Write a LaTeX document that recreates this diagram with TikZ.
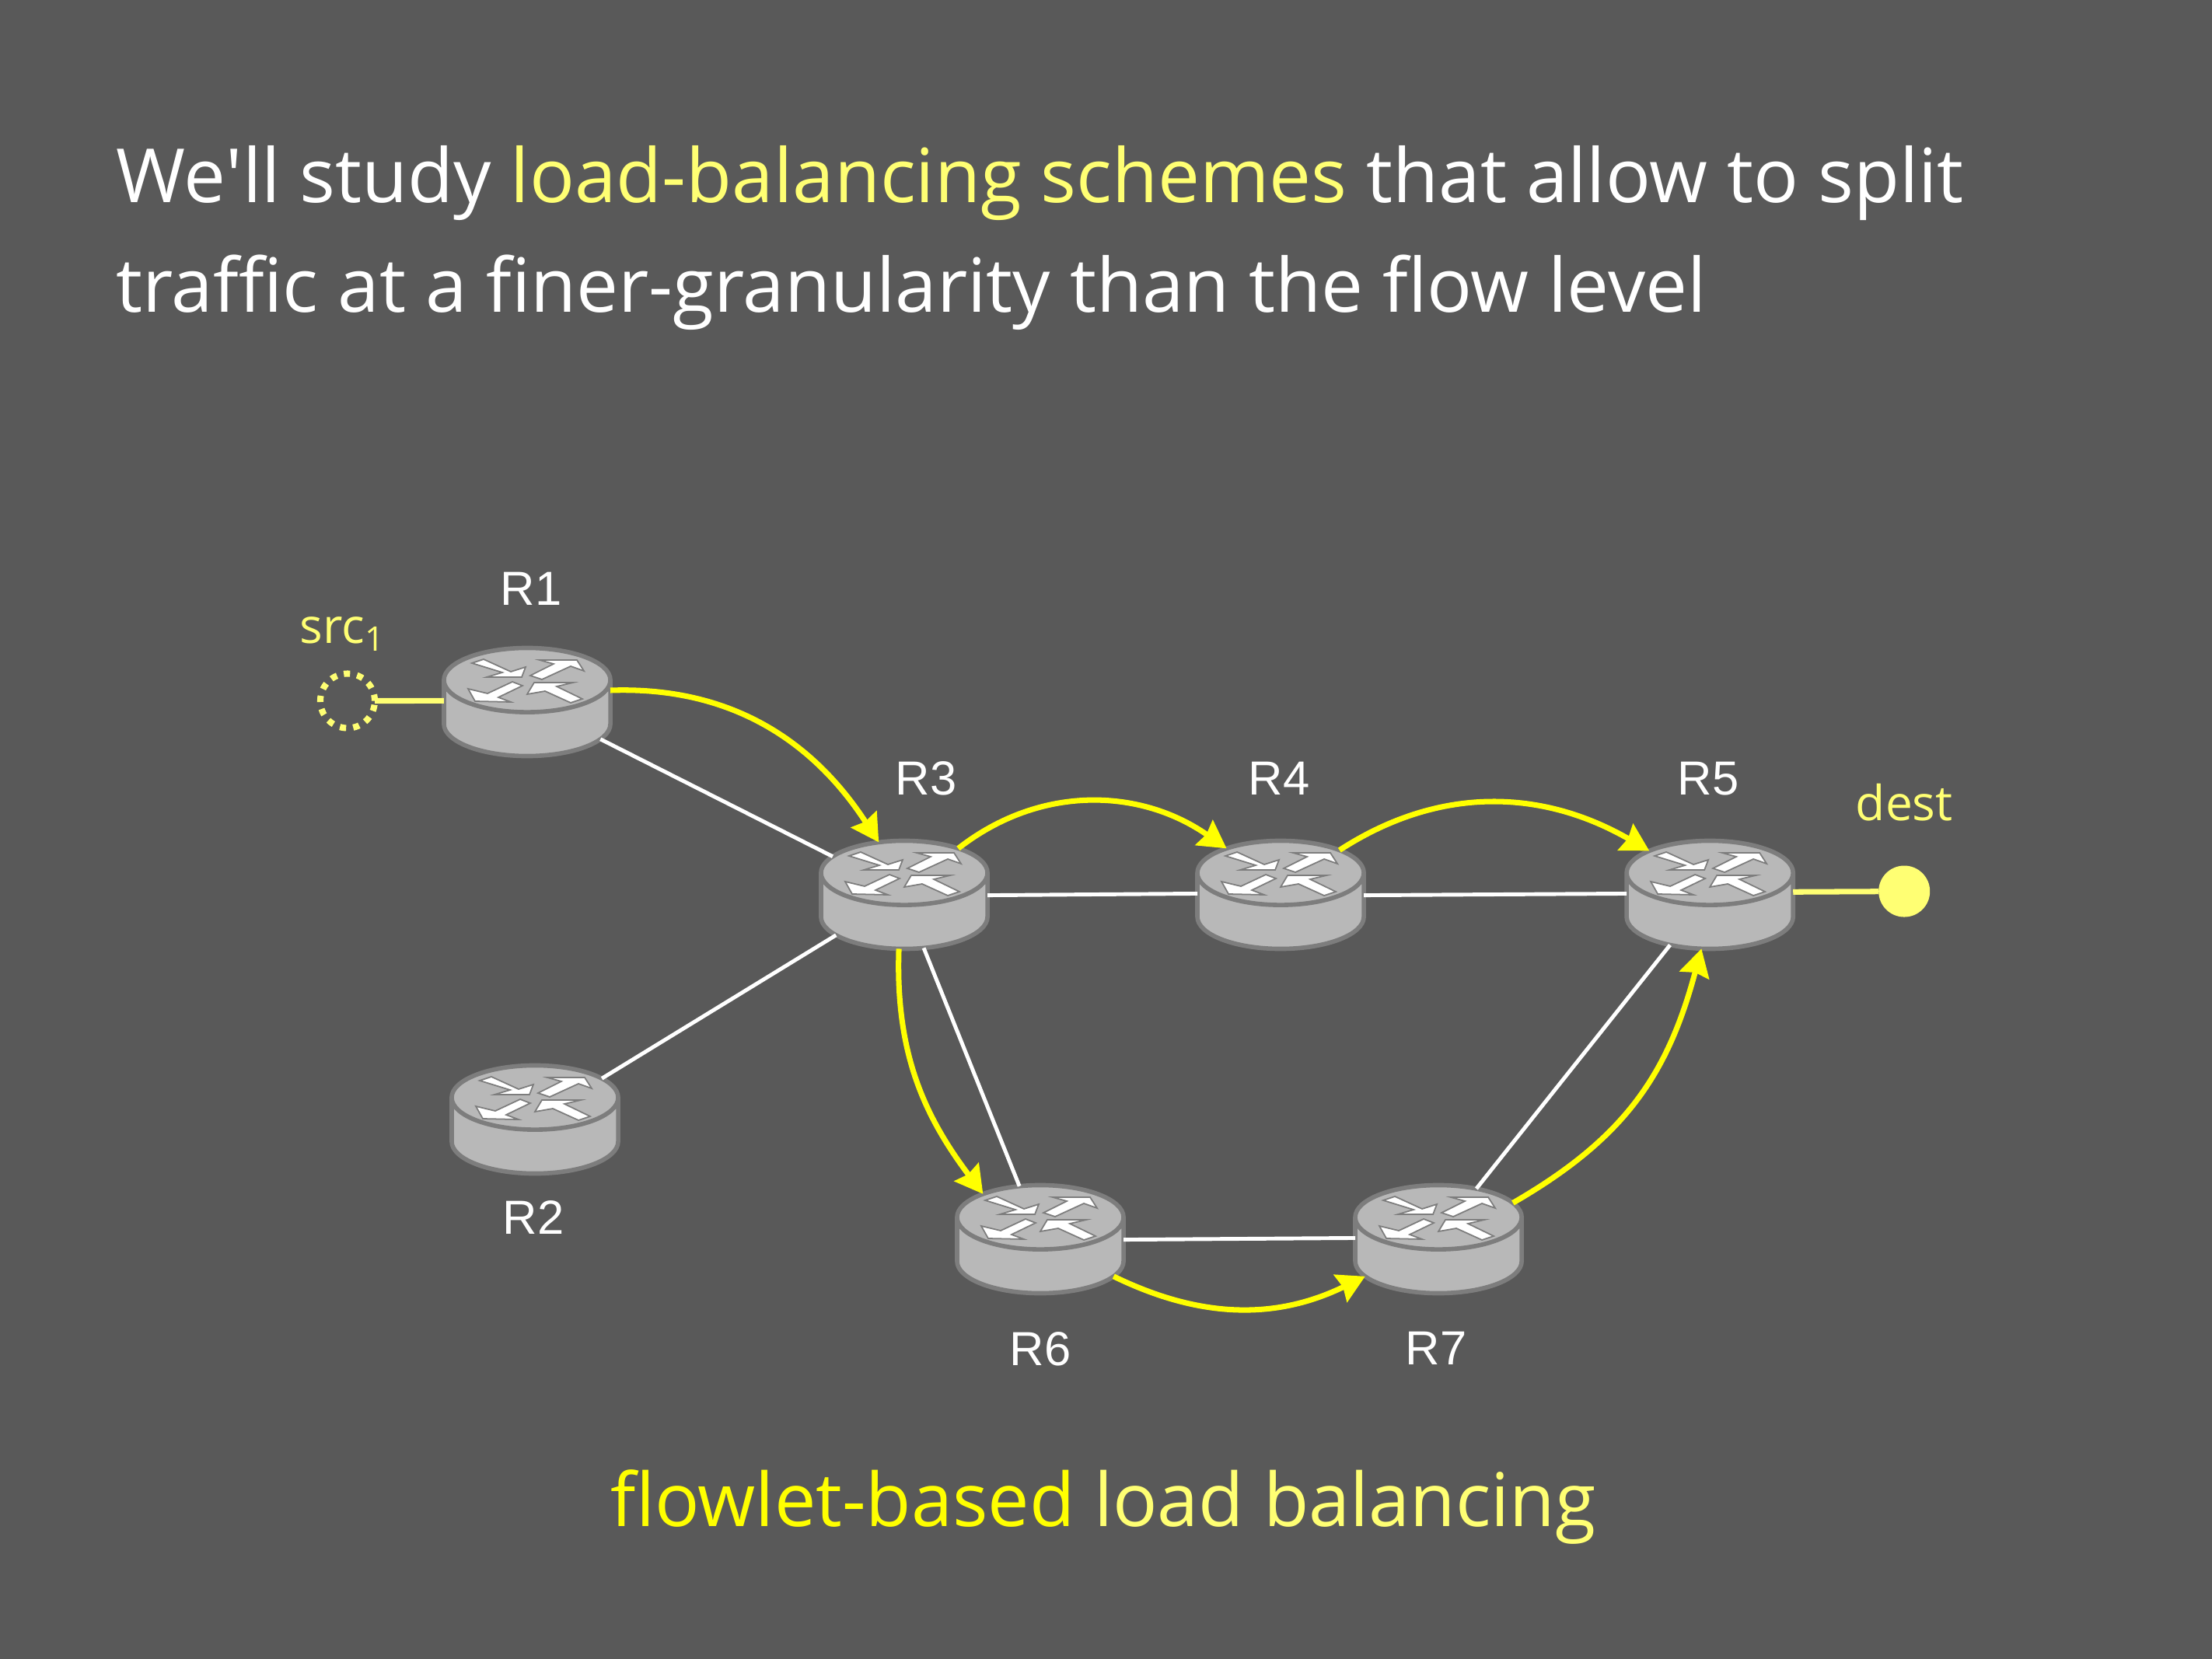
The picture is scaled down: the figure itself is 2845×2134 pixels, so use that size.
\documentclass[tikz,border=0pt]{standalone}
\usepackage{fontspec}
\setmainfont[Ligatures=NoCommon]{Open Sans}
\newfontfamily\routerfont{Liberation Sans}
\usepackage{tikz}
\usetikzlibrary{positioning, shapes.geometric, arrows.meta}
\definecolor{slidegrey}{RGB}{89, 89, 89}
\definecolor{flowyellow}{RGB}{255, 255, 0}
\definecolor{paleyellow}{RGB}{255, 255, 115}
\definecolor{routerfill}{RGB}{184, 184, 184}
\definecolor{routeredge}{RGB}{125, 125, 125}
\tikzset{
    routerbox/.style={cylinder, shape border rotate=90, aspect=0.826, anchor=shape center, draw=routeredge, fill=routerfill, line width=1.6pt, minimum width=2.14cm, minimum height=1.39cm, inner xsep=0.5cm, inner ysep=0.22cm, outer sep=0pt, line join=round},
    routerlabel/.style={font=\routerfont\fontsize{17.5pt}{20pt}\selectfont, text=white, inner sep=0pt},
    hostlabel/.style={font=\fontsize{17.7pt}{20pt}\selectfont, text=paleyellow, inner sep=0pt},
    slidetext/.style={font=\fontsize{27.35pt}{40pt}\selectfont, text=white, align=left, inner sep=0pt},
    linkline/.style={draw=white, line width=1.4pt},
    hostline/.style={draw=paleyellow, line width=2pt},
    flowarrow/.style={draw=flowyellow, line width=2pt, -{Stealth[length=10pt, width=11pt, inset=1pt]}},
    glyph/.style={draw=routeredge, fill=white, line width=0.5pt, line join=miter},
    pics/routerglyphs/.style={code={
        \draw[glyph] (-71,-50) -- (-56,-55) -- (-21,-39) -- (-2,-45) -- (-7,-32) -- (-52,-32) -- (-32,-38) -- cycle;
        \draw[glyph] (4,-34) -- (34,-49) -- (16,-54) -- (64,-54) -- (73,-40) -- (56,-46) -- (19,-29) -- cycle;
        \draw[glyph] (-76,-17) -- (-67,-1) -- (-21,0) -- (-37,-6) -- (-6,-21) -- (-19,-26) -- (-51,-11) -- cycle;
        \draw[glyph] (0,-10) -- (9,-25) -- (59,-25) -- (38,-20) -- (71,-4) -- (56,1) -- (23,-14) -- cycle;
    }}
}
\begin{document}
\begin{tikzpicture}[x=0.01cm, y=-0.01cm]
    \fill[slidegrey] (0,0) rectangle (2845,2134);

    % headline and caption
    \node[slidetext, anchor=north west] (headline) at (149,187) {We\textquotesingle ll study \textcolor{paleyellow}{load-balancing schemes} that allow to split\\traffic at a finer-granularity than the flow level};
    \node[slidetext, font=\fontsize{27.1pt}{40pt}\selectfont, anchor=base] (caption) at (1419,1963) {\textcolor{flowyellow}{flowlet-based} \textcolor{paleyellow}{load balancing}};

    % routers
    \node[routerbox] (R1) at (678,903) {};
    \node[routerbox] (R2) at (688,1440) {};
    \node[routerbox] (R3) at (1163,1151) {};
    \node[routerbox, right=2.78cm of R3] (R4) {};
    \node[routerbox, right=3.46cm of R4] (R5) {};
    \node[routerbox] (R6) at (1338,1594) {};
    \node[routerbox, right=3.06cm of R6] (R7) {};
    \foreach \rname in {R1,R2,R3,R4,R5,R6,R7}
        \pic at (\rname.shape center) {routerglyphs};

    % router names
    \node[routerlabel, above=0.54cm of R1, xshift=0.05cm] (nameR1) {R1};
    \node[routerlabel, below=0.34cm of R2, xshift=-0.02cm] (nameR2) {R2};
    \node[routerlabel, above=0.58cm of R3, xshift=0.28cm] (nameR3) {R3};
    \node[routerlabel, above=0.58cm of R4, xshift=-0.02cm] (nameR4) {R4};
    \node[routerlabel, above=0.58cm of R5, xshift=-0.02cm] (nameR5) {R5};
    \node[routerlabel, below=0.49cm of R6] (nameR6) {R6};
    \node[routerlabel, below=0.49cm of R7, xshift=-0.03cm] (nameR7) {R7};

    % end hosts
    \node[circle, draw=paleyellow, line width=2.3pt, dash pattern=on 2.3pt off 2.6pt, minimum size=0.7cm, inner sep=0pt, outer sep=0pt, left=0.93cm of R1, yshift=0.41cm] (src) {};
    \node[circle, fill=paleyellow, minimum size=0.66cm, inner sep=0pt, outer sep=0pt, right=1.14cm of R5, yshift=0.44cm] (dest) {};
    \node[hostlabel, above=0.28cm of src, xshift=-0.06cm] (srclabel) {src\textsubscript{1}};
    \node[hostlabel, above=0.57cm of dest] (destlabel) {dest};

    % plain links
    \draw[linkline] (R1.-5) -- (R3.136);
    \draw[linkline] (R2.47) -- (R3.-172);
    \draw[linkline] (R3.20.6) -- (R4.159.4);
    \draw[linkline] (R4.20.6) -- (R5.159.4);
    \draw[linkline] (R3.-49) -- (R6.104);
    \draw[linkline] (R6.20.6) -- (R7.159.4);
    \draw[linkline] (R7.65) -- (R5.-154);
    \draw[hostline] (src) -- (R1.159.4);
    \draw[hostline] (R5.22) -- (dest);

    % flowlet paths
    \draw[flowarrow] (R1.27) to[out=2, in=123] (R3.107.5);
    \draw[flowarrow] (R3.55) to[out=38, in=145] (R4.125.6);
    \draw[flowarrow] (R4.52) to[out=33, in=150] (R5.129.3);
    \draw[flowarrow] (R3.-103) to[out=-92, in=127] (R6.127);
    \draw[flowarrow] (R6.-5) to[out=-26, in=-154] (R7.-175);
    \draw[flowarrow] (R7.42) to[out=30, in=-105, looseness=1.05] (R5.-110);
\end{tikzpicture}
\end{document}
